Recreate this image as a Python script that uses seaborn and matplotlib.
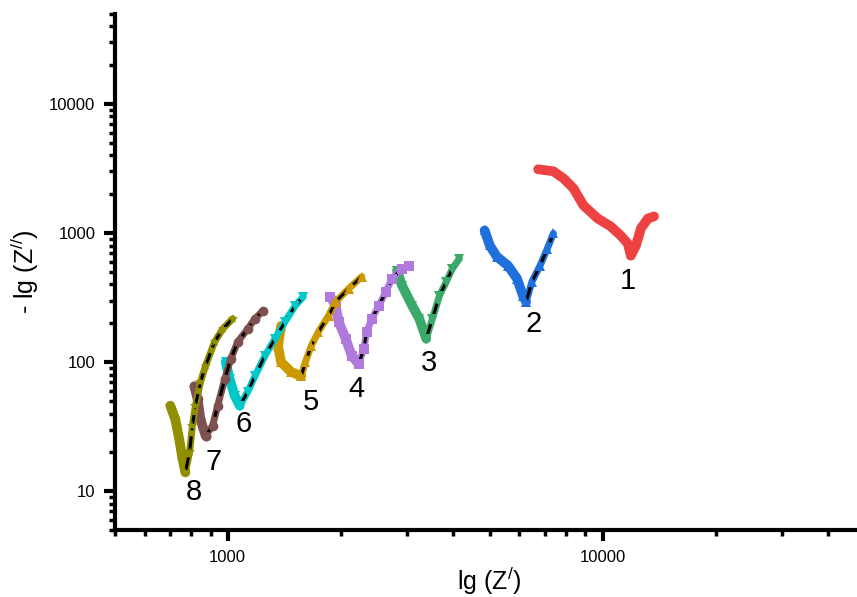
import numpy as np
import pandas as pd
import matplotlib
matplotlib.use("Agg")
import matplotlib.pyplot as plt
import seaborn as sns
from matplotlib.ticker import LogLocator, NullFormatter, FixedLocator, FixedFormatter

sns.set_style("ticks")
plt.rcParams['font.family'] = ['Liberation Sans', 'DejaVu Sans']
plt.rcParams['mathtext.fontset'] = 'custom'
plt.rcParams['mathtext.rm'] = 'Liberation Sans'
plt.rcParams['mathtext.it'] = 'Liberation Sans'
for k in ['axes.edgecolor', 'text.color', 'xtick.color', 'ytick.color', 'axes.labelcolor']:
    plt.rcParams[k] = 'black'

# ---- data (Z' , -Z'') ----
s1_x = [6730, 7385, 7860, 8360, 8890, 9700, 10510, 11170, 11670, 11890, 12270, 12650, 13210, 13710]
s1_y = [3119, 3012, 2655, 2220, 1637, 1298, 1125, 957, 830, 670, 801, 1086, 1298, 1346]
s2_x = [4844, 5000, 5220, 5590, 5910, 6130, 6250, 6480, 6810, 7120, 7390]
s2_y = [1047, 802, 658, 560, 444, 327, 294, 421, 560, 759, 993]
s3_x = [2829, 2917, 3105, 3243, 3385, 3515, 3670, 3830, 3975, 4150]
s3_y = [512, 392, 274, 217, 152, 217, 327, 421, 531, 635]
s4_x = [1880, 1940, 1977, 2064, 2142, 2236, 2306, 2348, 2423, 2530, 2643, 2742, 2917, 3048]
s4_y = [321, 274, 206, 152, 112, 97, 127, 172, 217, 274, 352, 444, 531, 560]
s5_x = [1388, 1362, 1388, 1477, 1571, 1611, 1671, 1746, 1858, 1940, 2102, 2278]
s5_y = [191, 134, 100, 84, 78, 100, 134, 172, 229, 294, 371, 460]
s6_x = [988, 1012, 1044, 1077, 1131, 1182, 1257, 1337, 1422, 1514, 1591]
s6_y = [100, 74, 55, 46, 59, 78, 112, 152, 206, 274, 321]
s7_x = [815, 831, 846, 873, 911, 940, 982, 1019, 1064, 1131, 1182, 1242]
s7_y = [65, 52, 36, 27, 32, 46, 74, 106, 144, 181, 217, 250]
s8_x = [703, 725, 743, 757, 771, 791, 805, 820, 846, 873, 923, 970, 1031]
s8_y = [46, 36, 25, 18, 14, 20, 32, 46, 70, 94, 144, 181, 217]

labels = ["1", "2", "3", "4", "5", "6", "7", "8"]
label_x = [11670, 6530, 3450, 2208, 1671, 1104, 917, 811]
label_y = [428, 199, 99, 62, 49, 33, 16.8, 9.8]

series = [(s1_x, s1_y), (s2_x, s2_y), (s3_x, s3_y), (s4_x, s4_y),
          (s5_x, s5_y), (s6_x, s6_y), (s7_x, s7_y), (s8_x, s8_y)]
colors = ["#EE4242", "#1F6FDD", "#3AAA6A", "#B07ADC", "#CC9900", "#00C8C8", "#7E5050", "#8F8F00"]
markers = [None, "^", "v", "s", "^", "v", "o", "*"]

fig = plt.figure(figsize=(8.57, 5.97), dpi=100)
ax = fig.add_axes([0.134, 0.112, 0.875, 0.865])

for i, (xs, ys) in enumerate(series):
    xs = np.array(xs, float); ys = np.array(ys, float)
    imin = int(np.argmin(ys))
    c = colors[i]; m = markers[i]
    # falling branch (thick)
    sns.lineplot(x=xs[:imin + 1], y=ys[:imin + 1], sort=False, ax=ax, color=c,
                 lw=7, solid_capstyle='round', estimator=None)
    if m is not None:
        sns.lineplot(x=xs[:imin + 1], y=ys[:imin + 1], sort=False, ax=ax, color=c, lw=0,
                     marker=m, markersize=7, markeredgewidth=0, estimator=None)
    # rising branch
    if i == 0:
        sns.lineplot(x=xs[imin:], y=ys[imin:], sort=False, ax=ax, color=c,
                     lw=7, solid_capstyle='round', estimator=None)
    else:
        sns.lineplot(x=xs[imin:], y=ys[imin:], sort=False, ax=ax, color=c,
                     lw=5, estimator=None)
        sns.lineplot(x=xs[imin:], y=ys[imin:], sort=False, ax=ax, color="black",
                     lw=2.2, dashes=False, linestyle=(0, (5, 2)), estimator=None)
        sns.lineplot(x=xs[imin:], y=ys[imin:], sort=False, ax=ax, color=c, lw=0,
                     marker=m, markersize=7, markeredgewidth=0, estimator=None)

for t, lx, ly in zip(labels, label_x, label_y):
    ax.text(lx, ly, t, fontsize=21, ha='center', va='center', color='black')

ax.set_xscale('log')
ax.set_yscale('log')
ax.set_xlim(500, 50000)
ax.set_ylim(5, 50000)

ax.xaxis.set_major_locator(FixedLocator([1000, 10000]))
ax.xaxis.set_major_formatter(FixedFormatter(["1000", "10000"]))
ax.yaxis.set_major_locator(FixedLocator([10, 100, 1000, 10000]))
ax.yaxis.set_major_formatter(FixedFormatter(["10", "100", "1000", "10000"]))
ax.xaxis.set_minor_locator(LogLocator(base=10, subs=np.arange(2, 10), numticks=20))
ax.yaxis.set_minor_locator(LogLocator(base=10, subs=np.arange(2, 10), numticks=20))
ax.xaxis.set_minor_formatter(NullFormatter())
ax.yaxis.set_minor_formatter(NullFormatter())

for s in ['top', 'right']:
    ax.spines[s].set_visible(False)
for s in ['left', 'bottom']:
    ax.spines[s].set_linewidth(3)
    ax.spines[s].set_color('black')
ax.tick_params(which='major', direction='out', length=8, width=3, labelsize=12, pad=6, colors='black')
ax.tick_params(which='minor', direction='out', length=4, width=2.5, colors='black')

ax.set_xlabel("lg (Z$^{/}$)", fontsize=18, labelpad=0)
ax.set_ylabel("- lg (Z$^{//}$)", fontsize=18, labelpad=6)

fig.savefig("out.png", dpi=100)
